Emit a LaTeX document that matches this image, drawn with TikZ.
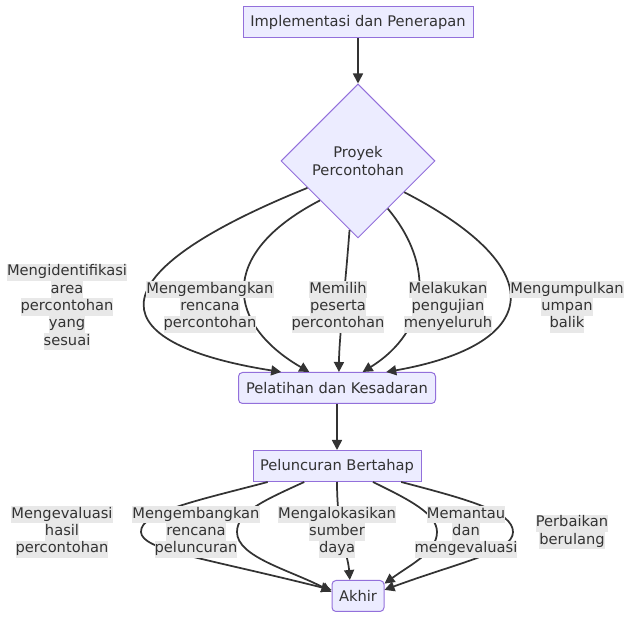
\documentclass[tikz,border=0pt]{standalone}
\usepackage{fontspec}
\setmainfont{DejaVu Sans}
\usepackage{tikz}
\usepackage{xcolor}
\usetikzlibrary{shapes.geometric, arrows.meta}
\definecolor{Node_Fill}{HTML}{ECECFF}
\definecolor{Node_Border}{HTML}{9370DB}
\definecolor{Ink}{HTML}{333333}
\definecolor{Label_Bg}{HTML}{E8E8E8}
\newcommand{\tagline}[1]{{\setlength{\fboxsep}{0pt}\colorbox{Label_Bg}{\strut #1}}}

\begin{document}
\begin{tikzpicture}[x=0.75pt, y=-0.75pt, font=\fontsize{11}{13}\selectfont,
    box/.style={draw=Node_Border, fill=Node_Fill, text=Ink, line width=0.75pt, minimum height=23.25pt, inner xsep=0pt},
    rbox/.style={box, rounded corners=3pt},
    tag/.style={text=Ink, align=center, inner sep=0pt},
    link/.style={draw=Ink, line width=1.3pt, -{Triangle[length=7.5pt,width=7.5pt]}}]
    \useasboundingbox (0,0) rectangle (640,627);
    % Steps
    \node[box, minimum width=172.5pt] (impl) at (358,22) {Implementasi dan Penerapan};
    \node[box, shape=diamond, align=center, inner sep=0pt, minimum width=115.5pt, minimum height=115.5pt] (proj) at (358,161) {Proyek\\Percontohan};
    \node[rbox, minimum width=147.75pt] (pel) at (337,388) {Pelatihan dan Kesadaran};
    \node[box, minimum width=126pt] (pelun) at (337,466) {Peluncuran Bertahap};
    \node[rbox, minimum width=39pt] (akhir) at (358,596) {Akhir};
    % Straight links
    \draw[link] (impl.south) -- (proj.north);
    \draw[link] (pel.south) -- (pelun.north);
    % Proyek -> Pelatihan
    \draw[link] (proj.208) .. controls (80,280) and (110,345) .. (pel.164);
    \draw[link] (proj.226) .. controls (215,255) and (228,325) .. (pel.150);
    \draw[link] (proj.263) .. controls (345,290) and (339,340) .. (pel.83);
    \draw[link] (proj.302) .. controls (435,265) and (430,330) .. (pel.32);
    \draw[link] (proj.326) .. controls (555,270) and (540,345) .. (pel.18);
    % Peluncuran -> Akhir
    \draw[link] (pelun.193) .. controls (200,500) and (140,512) .. (141,532) .. controls (142,550) and (200,557) .. (akhir.167);
    \draw[link] (pelun.206) .. controls (265,500) and (237,512) .. (237,532) .. controls (237,557) and (290,570) .. (akhir.171);
    \draw[link] (pelun.south) .. controls (337,532) and (348,555) .. (akhir.117);
    \draw[link] (pelun.336) .. controls (410,500) and (437,514) .. (437,532) .. controls (437,552) and (410,565) .. (akhir.25);
    \draw[link] (pelun.346) .. controls (470,500) and (513,512) .. (513,532) .. controls (513,552) and (460,562) .. (akhir.13);
    % Labels
    \node[tag] (l1) at (67,307) {\tagline{Mengidentifikasi}\\\tagline{area}\\\tagline{percontohan}\\\tagline{yang}\\\tagline{sesuai}};
    \node[tag] (l2) at (210,307) {\tagline{Mengembangkan}\\\tagline{rencana}\\\tagline{percontohan}};
    \node[tag] (l3) at (338,307) {\tagline{Memilih}\\\tagline{peserta}\\\tagline{percontohan}};
    \node[tag] (l4) at (448,307) {\tagline{Melakukan}\\\tagline{pengujian}\\\tagline{menyeluruh}};
    \node[tag] (l5) at (567,307) {\tagline{Mengumpulkan}\\\tagline{umpan}\\\tagline{balik}};
    \node[tag] (m1) at (62,532) {\tagline{Mengevaluasi}\\\tagline{hasil}\\\tagline{percontohan}};
    \node[tag] (m2) at (196,532) {\tagline{Mengembangkan}\\\tagline{rencana}\\\tagline{peluncuran}};
    \node[tag] (m3) at (337,532) {\tagline{Mengalokasikan}\\\tagline{sumber}\\\tagline{daya}};
    \node[tag] (m4) at (466,532) {\tagline{Memantau}\\\tagline{dan}\\\tagline{mengevaluasi}};
    \node[tag] (m5) at (572,532) {\tagline{Perbaikan}\\\tagline{berulang}};
\end{tikzpicture}
\end{document}
